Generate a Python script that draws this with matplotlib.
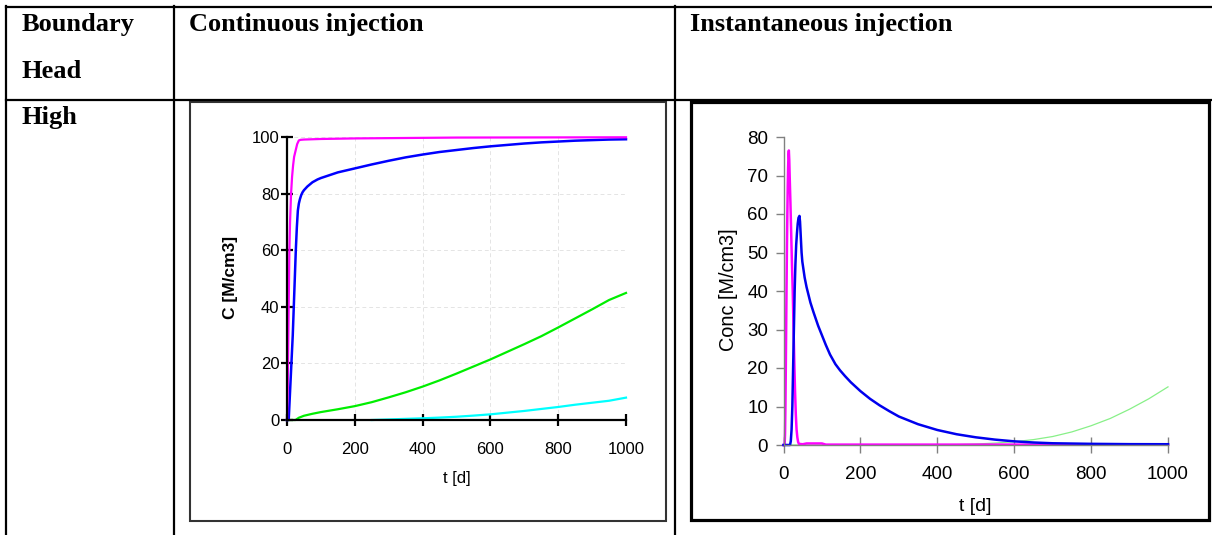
import matplotlib
matplotlib.use("Agg")
import matplotlib.pyplot as plt
from matplotlib.lines import Line2D
from matplotlib.patches import Rectangle

W, H = 1212, 535

# continuous injection: C [M/cm3] against t [d]
t_mag_c = [0, 2, 3, 4, 5, 6, 7, 9, 12, 15, 18, 21, 25, 30, 35, 40, 50, 100, 200, 500, 1000]
c_mag_c = [0, 10, 20, 30, 40, 50, 60, 70, 80, 86, 90, 93, 95, 97.5, 98.8, 99.0, 99.1, 99.3, 99.5, 99.8, 99.9]
t_blue_c = [0, 5, 9, 13, 17, 20, 23, 26, 29, 32, 35, 38, 42, 46, 50, 60, 75, 90, 100, 125, 150, 175,
            200, 250, 300, 350, 400, 450, 500, 550, 600, 650, 700, 750, 800, 850, 900, 950, 1000]
c_blue_c = [0, 0, 10, 20, 30, 40, 50, 60, 68, 74, 76.5, 78, 79.5, 80.5, 81.2, 82.5, 84, 85, 85.5, 86.5, 87.5, 88.2,
            88.9, 90.3, 91.6, 92.8, 93.8, 94.7, 95.4, 96.1, 96.7, 97.2, 97.7, 98.1, 98.4, 98.7, 98.9, 99.1, 99.2]
t_green_c = [0, 25, 35, 50, 75, 100, 150, 200, 250, 300, 350, 400, 450, 500, 550, 600, 650, 700, 750, 800,
             850, 900, 950, 1000]
c_green_c = [0, 0, 0.8, 1.5, 2.2, 2.8, 3.8, 4.9, 6.3, 8.0, 9.8, 11.8, 14.0, 16.4, 18.9, 21.4, 24.1, 26.8, 29.6,
             32.7, 35.9, 39.1, 42.4, 44.9]
t_cyan_c = [250, 300, 350, 400, 450, 500, 550, 600, 650, 700, 750, 800, 850, 900, 950, 1000]
c_cyan_c = [0, 0.2, 0.4, 0.6, 0.85, 1.15, 1.55, 2.0, 2.6, 3.2, 3.9, 4.6, 5.4, 6.1, 6.8, 7.9]

# instantaneous injection: Conc [M/cm3] against t [d]
t_mag_i = [0, 3, 4, 5, 6, 7, 7.8, 9, 10, 11, 12, 13, 13.9, 15, 16, 18, 20, 22, 24, 26, 28, 30, 32, 34, 36, 38,
           40, 50, 60, 100, 110, 1000]
c_mag_i = [0, 0.3, 3, 10, 20, 31, 40, 52, 60, 67, 72, 75.5, 76.5, 74, 70, 63, 55, 47, 40, 31, 22, 14, 8, 4, 2, 0.8,
           0.3, 0.2, 0.4, 0.4, 0.1, 0.1]
t_blue_i = [0, 17, 19, 21, 23, 25, 27, 29, 31, 33, 35, 37, 39, 41.5, 43, 45, 47, 49, 55, 60, 70, 78, 90, 100, 110,
            121, 135, 147, 160, 175, 200, 225, 250, 275, 300, 350, 400, 450, 500, 550, 600, 650, 700, 800, 900, 1000]
c_blue_i = [0, 0, 1, 4, 10, 20, 30, 40, 47, 52, 55, 57.5, 59, 59.5, 58, 54, 50, 47.6, 43.5, 41, 37, 34.5, 31, 28.5,
            26, 23.5, 21, 19.4, 17.9, 16.3, 14.0, 12.0, 10.3, 8.8, 7.4, 5.4, 3.9, 2.8, 2.0, 1.4, 0.95, 0.65, 0.45,
            0.3, 0.22, 0.2]
t_green_i = [0, 450, 500, 550, 600, 650, 700, 750, 800, 850, 900, 950, 1000]
c_green_i = [0, 0.1, 0.25, 0.5, 0.85, 1.4, 2.2, 3.4, 5.0, 6.9, 9.3, 12.0, 15.1]

ticks_x = [0, 200, 400, 600, 800, 1000]


def fx(px):
    return px / W


def fy(py):
    return 1 - py / H


fig = plt.figure(figsize=(W / 100, H / 100), dpi=100)
fig.patch.set_facecolor("white")

# table rules
rules = [
    ((6, 1212), (7, 7)),
    ((6, 1212), (100, 100)),
    ((6, 6), (6, 535)),
    ((174, 174), (6, 535)),
    ((675, 675), (6, 535)),
]
for xs, ys in rules:
    fig.add_artist(Line2D([fx(x) for x in xs], [fy(y) for y in ys],
                          color="black", lw=1.6, solid_capstyle="projecting"))

serif = dict(family="Liberation Serif", weight="bold", size=19, va="baseline")
fig.text(fx(22), fy(31), "Boundary", **serif)
fig.text(fx(22), fy(78), "Head", **serif)
fig.text(fx(22), fy(124), "High", **serif)
fig.text(fx(189), fy(31), "Continuous injection", **serif)
fig.text(fx(690), fy(31), "Instantaneous injection", **serif)

# chart frames
fig.add_artist(Rectangle((fx(190), fy(521)), fx(666) - fx(190), fy(102) - fy(521),
                         fill=False, ec="#333333", lw=1.5))
fig.add_artist(Rectangle((fx(691), fy(520)), fx(1209) - fx(691), fy(102) - fy(520),
                         fill=False, ec="black", lw=2.3))

sans = "Liberation Sans"

# continuous injection chart
ax1 = fig.add_axes([fx(287), fy(420), fx(626) - fx(287), fy(137) - fy(420)])
ax1.plot(t_cyan_c, c_cyan_c, color="#00ffff", lw=1.6, clip_on=False)
ax1.plot(t_green_c, c_green_c, color="#00ee00", lw=1.6, clip_on=False)
ax1.plot(t_blue_c, c_blue_c, color="#0000ff", lw=1.8, clip_on=False)
ax1.plot(t_mag_c, c_mag_c, color="#ff00ff", lw=1.6, clip_on=False)
ax1.set_xlim(0, 1000)
ax1.set_ylim(0, 100)
ax1.set_xticks(ticks_x)
ax1.set_yticks([0, 20, 40, 60, 80, 100])
ax1.grid(True, color="#e4e4e4", lw=0.7, ls=(0, (4, 3)))
ax1.set_axisbelow(True)
for s in ("top", "right"):
    ax1.spines[s].set_visible(False)
for s in ("left", "bottom"):
    ax1.spines[s].set_linewidth(1.6)
    ax1.spines[s].set_zorder(5)
ax1.tick_params(direction="inout", length=9, width=1.6, colors="black", labelsize=12)
ax1.tick_params(axis="y", pad=1)
ax1.tick_params(axis="x", pad=11)
for lab in ax1.get_xticklabels() + ax1.get_yticklabels():
    lab.set_family(sans)
ax1.set_ylabel("C [M/cm3]", family=sans, weight="bold", size=12.5, va="center")
ax1.set_xlabel("t [d]", family=sans, size=12, va="center")
ax1.yaxis.set_label_coords(-0.168, 0.502)
ax1.xaxis.set_label_coords(0.501, -0.205)
ax1.patch.set_alpha(0)

# instantaneous injection chart
ax2 = fig.add_axes([fx(783.5), fy(445), fx(1168) - fx(783.5), fy(137) - fy(445)])
ax2.plot(t_green_i, c_green_i, color="#88f088", lw=0.9, clip_on=False)
ax2.plot(t_mag_i, c_mag_i, color="#ff00ff", lw=1.8, clip_on=False)
ax2.plot(t_blue_i, c_blue_i, color="#0000ee", lw=1.8, clip_on=False)
ax2.set_xlim(0, 1000)
ax2.set_ylim(0, 80)
ax2.set_xticks(ticks_x)
ax2.set_yticks(range(0, 81, 10))
for s in ("top", "right"):
    ax2.spines[s].set_visible(False)
for s in ("left", "bottom"):
    ax2.spines[s].set_color("#808080")
    ax2.spines[s].set_linewidth(1.0)
ax2.tick_params(axis="y", direction="out", length=6, width=1.0, colors="#808080",
                labelcolor="black", labelsize=13.5, pad=5)
ax2.tick_params(axis="x", direction="inout", length=12, width=1.0, colors="#808080",
                labelcolor="black", labelsize=13.5, pad=9)
for lab in ax2.get_xticklabels() + ax2.get_yticklabels():
    lab.set_family(sans)
ax2.set_ylabel("Conc [M/cm3]", family=sans, size=14.3, va="center")
ax2.set_xlabel("t [d]", family=sans, size=14, va="center")
ax2.yaxis.set_label_coords(-0.142, 0.503)
ax2.xaxis.set_label_coords(0.498, -0.201)
ax2.patch.set_alpha(0)

fig.savefig("out.png", dpi=100)
